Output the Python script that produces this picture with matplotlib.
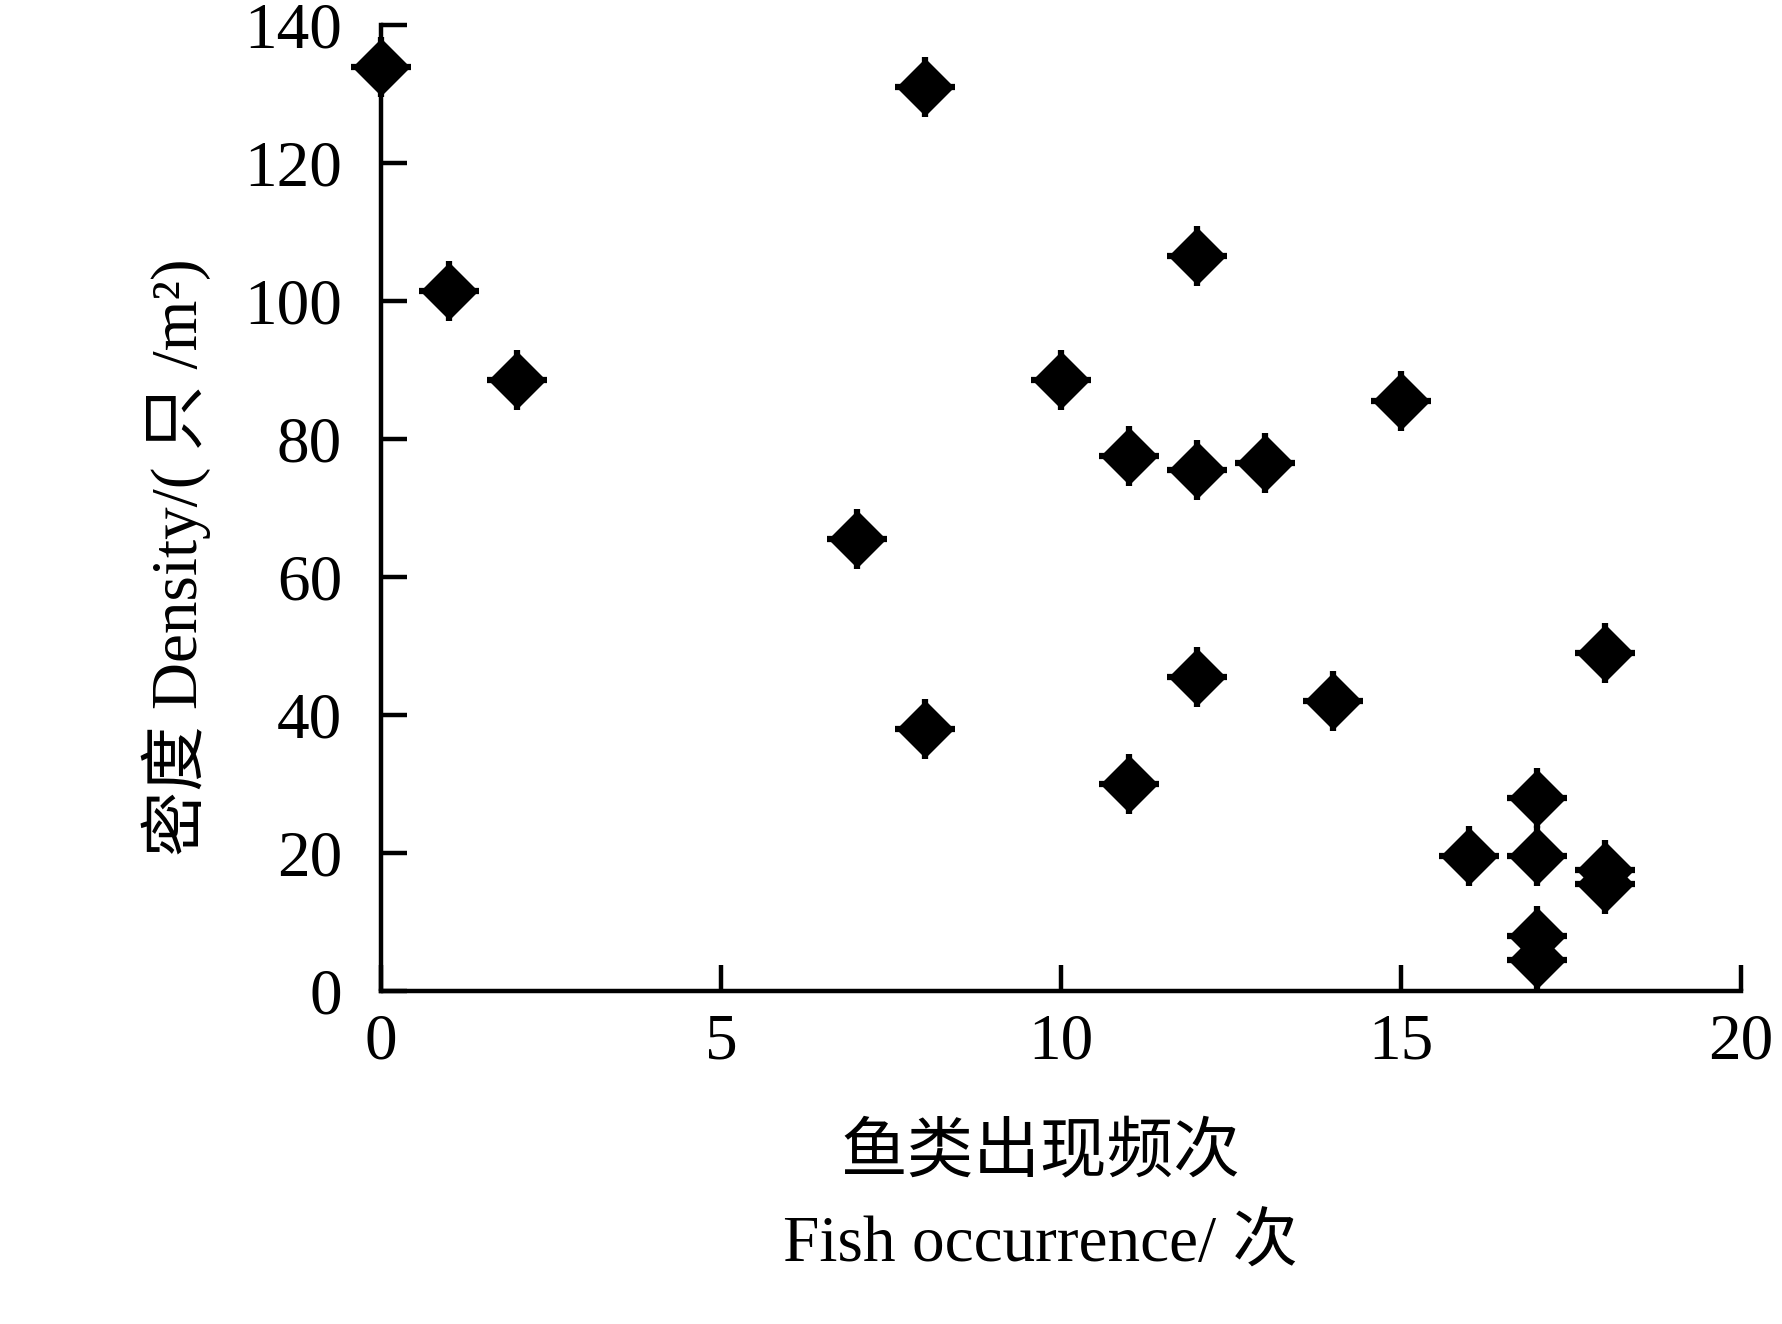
import matplotlib
matplotlib.use("Agg")
import matplotlib.pyplot as plt

# fish occurrence (x) vs. density (y)
fish_occurrence = [0, 1, 2, 7, 8, 8, 10, 11, 11, 12, 12, 12, 13, 14, 15,
                   16, 17, 17, 17, 17, 18, 18, 18]
density = [134, 101.5, 88.5, 65.5, 131, 38, 88.5, 77.5, 30, 106.5, 75.5, 45.5,
           76.5, 42, 85.5, 19.5, 28, 19.5, 8, 4.5, 49, 17.5, 15.5]

x_ticks = [0, 5, 10, 15, 20]
y_ticks = [0, 20, 40, 60, 80, 100, 120, 140]

FONT = ["Liberation Serif", "Noto Sans CJK SC", "DejaVu Sans"]
FS = 47

plt.rcParams["font.family"] = FONT

fig = plt.figure(figsize=(17.82, 13.24), dpi=100)
ax = fig.add_axes([0.2138, 0.2515, 0.977 - 0.2138, 0.981 - 0.2515])

# diamonds with the little "+" nubs at the vertices
ax.plot(fish_occurrence, density, linestyle="none", marker="+", ms=43,
        mew=4.5, color="black", clip_on=False, zorder=3)
ax.plot(fish_occurrence, density, linestyle="none", marker="D", ms=29,
        mfc="black", mec="black", mew=1, clip_on=False, zorder=4)

ax.set_xlim(0, 20)
ax.set_ylim(0, 140)
ax.set_xticks(x_ticks)
ax.set_yticks(y_ticks)

for side in ("top", "right"):
    ax.spines[side].set_visible(False)
for side in ("left", "bottom"):
    ax.spines[side].set_linewidth(3.2)

ax.tick_params(axis="both", direction="in", length=19, width=3.2,
               labelsize=FS)
ax.tick_params(axis="y", pad=28)
ax.tick_params(axis="x", pad=16)

fig.text(0.584, 0.129, "鱼类出现频次", ha="center", va="center",
         fontsize=FS + 1, family=["Noto Sans CJK SC", "DejaVu Sans"])
fig.text(0.584, 0.059, "Fish occurrence/ 次", ha="center", va="center",
         fontsize=FS, family=FONT)
fig.text(0.0988, 0.579, "密度 Density/( 只 /m²)", ha="center", va="center",
         rotation=90, fontsize=FS, family=FONT)

fig.savefig("out.png", dpi=100, facecolor="white")
